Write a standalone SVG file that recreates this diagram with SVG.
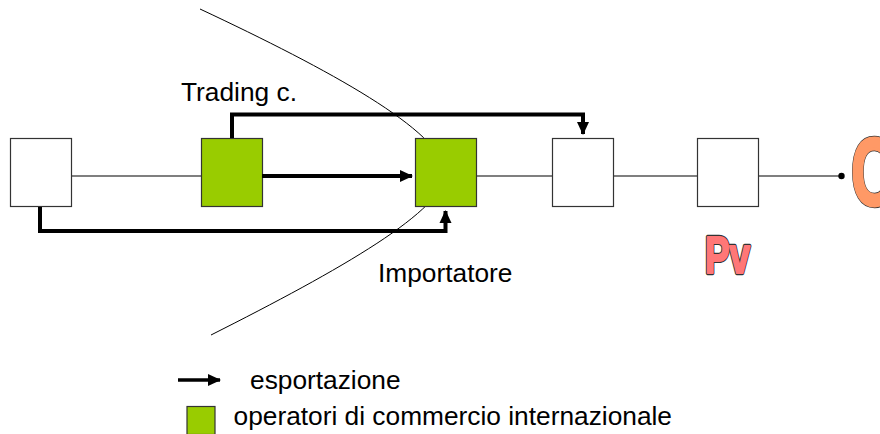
<svg xmlns="http://www.w3.org/2000/svg" width="880" height="434" viewBox="0 0 880 434">
<style>
.box{stroke:#333;stroke-width:1.2}
.white{fill:#fff}
.green{fill:#99CC00}
.thin{stroke:#555;stroke-width:1.5;fill:none}
.thick{stroke:#000;stroke-width:4;fill:none}
.curve{stroke:#000;stroke-width:1;fill:none}
.lbl{font-family:"Liberation Sans",Arial,sans-serif;font-size:26.3px;fill:#000}
.big{font-family:"Liberation Sans",Arial,sans-serif;font-weight:bold;stroke-linejoin:round}
.outl{stroke:#333;stroke-width:4.5}
</style>
<defs>
<marker id="ah" markerUnits="userSpaceOnUse" markerWidth="14" markerHeight="14" refX="12" refY="6.5" orient="auto">
<path d="M0,0.5 L13,6.5 L0,12.5 Z" fill="#000"/>
</marker>
</defs>
<rect width="880" height="434" fill="#fff"/>
<g id="connectors">
<path class="curve" d="M200,9 C330,70 440,130 446,172 C446,210 340,270 211,335"/>
<line class="thin" x1="71" y1="176" x2="201" y2="176"/>
<line class="thin" x1="476" y1="176" x2="552" y2="176"/>
<line class="thin" x1="613" y1="176" x2="697" y2="176"/>
<line class="thin" x1="758" y1="176" x2="841" y2="176"/>
<circle cx="841.5" cy="176" r="3.2" fill="#000"/>
</g>
<g id="n1"><rect class="box white" x="10.5" y="138.5" width="61" height="68"/></g>
<g id="n2"><rect class="box green" x="201.5" y="138.5" width="61" height="68"/></g>
<g id="n3"><rect class="box green" x="415.5" y="138.5" width="61" height="68"/></g>
<g id="n4"><rect class="box white" x="552.5" y="138.5" width="61" height="68"/></g>
<g id="n5"><rect class="box white" x="697.5" y="138.5" width="61" height="68"/></g>
<g id="arrows">
<path class="thick" d="M232,138 V114.5 H583 V134" marker-end="url(#ah)"/>
<path class="thick" d="M262,176 H412" marker-end="url(#ah)"/>
<path class="thick" d="M40,207 V231 H445.5 V211" marker-end="url(#ah)"/>
</g>
<g id="labels">
<text class="lbl" x="181" y="101">Trading c.</text>
<text class="lbl" x="378" y="281.5">Importatore</text>
<g id="pv">
<text class="big outl" x="705" y="273" font-size="52" fill="#333" textLength="45" lengthAdjust="spacingAndGlyphs">Pv</text>
<text class="big" x="705" y="273" font-size="52" fill="#FF7777" stroke="#FF7777" stroke-width="2.2" textLength="45" lengthAdjust="spacingAndGlyphs">Pv</text>
</g>
<g id="c">
<text class="big outl" x="851" y="205" font-size="96" fill="#333" textLength="44" lengthAdjust="spacingAndGlyphs">C</text>
<text class="big" x="851" y="205" font-size="96" fill="#FF9966" stroke="#FF9966" stroke-width="3" textLength="44" lengthAdjust="spacingAndGlyphs">C</text>
</g>
</g>
<g id="legend">
<path d="M178,380 H220" stroke="#000" stroke-width="3.5" fill="none" marker-end="url(#ah)"/>
<text class="lbl" x="250" y="389">esportazione</text>
<rect class="box green" x="187" y="406.5" width="28" height="28"/>
<text class="lbl" x="233.5" y="425">operatori di commercio internazionale</text>
</g>
</svg>
